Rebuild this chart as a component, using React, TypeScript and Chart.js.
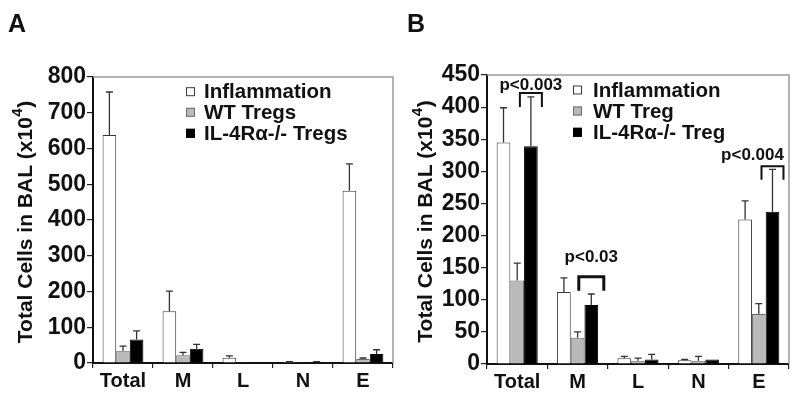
import React, { useEffect, useRef } from "react";
import { Chart, registerables } from "chart.js";

Chart.register(...registerables);

const FONT = '"Liberation Sans", Arial, Helvetica, sans-serif';

// ---------- DATA ----------
const categories = ["Total", "M", "L", "N", "E"];

const seriesNamesA = ["Inflammation", "WT Tregs", "IL-4R\u03b1-/- Tregs"];
const aInflammation = [638, 145, 15, 3, 482];
const aInflammationErr = [120, 56, 5, 1, 75];
const aWT = [34, 22, 1, 1, 11];
const aWTErr = [13, 8, 0, 0, 3];
const aIL4 = [66, 40, 1, 3, 25];
const aIL4Err = [24, 12, 0, 1, 12];
const aMax = 800;
const aStep = 100;

const seriesNamesB = ["Inflammation", "WT Treg", "IL-4R\u03b1-/- Treg"];
const bInflammation = [345, 112, 9, 6, 225];
const bInflammationErr = [54, 22, 3, 1, 29];
const bWT = [130, 41, 5, 5, 78];
const bWTErr = [27, 9, 4, 7, 16];
const bIL4 = [339, 92, 7, 7, 237];
const bIL4Err = [77, 17, 8, 0, 66];
const bMax = 450;
const bStep = 50;

// significance annotations (panel B), anchored to the IL-4Ra-/- bar of a category
const sigLabels = ["p<0.003", "p<0.03", "p<0.004"];
const sigCategories = [0, 1, 4];
const sigBracketTop = [422, 136, 308];
const sigBracketLeg = [400, 114, 287];
const sigTextValue = [434, 166, 325];

const yTitleMain = "Total Cells in BAL (x10";
const yTitleSup = "4";
const yTitleEnd = ")";

// ---------- STYLE ----------
const fills = ["#ffffff", "#b9b9b9", "#000000"];
const outlines = ["#3a3a3a", "#6a6a6a", "#000000"];

type Panel = {
  letter: string;
  names: string[];
  values: number[][];
  errors: number[][];
  max: number;
  step: number;
  pad: { left: number; right: number; top: number };
  yWidth: number;
  xHeight: number;
  titleX: number;
  legendDx: number;
  legendTextDx: number;
  legendDy: number[];
  sig: boolean;
};

const panels: Panel[] = [
  {
    letter: "A",
    names: seriesNamesA,
    values: [aInflammation, aWT, aIL4],
    errors: [aInflammationErr, aWTErr, aIL4Err],
    max: aMax,
    step: aStep,
    pad: { left: 8, right: 7, top: 77 },
    yWidth: 85,
    xHeight: 39,
    titleX: 26,
    legendDx: 93,
    legendTextDx: 111,
    legendDy: [14.7, 35.3, 56.3],
    sig: false,
  },
  {
    letter: "B",
    names: seriesNamesB,
    values: [bInflammation, bWT, bIL4],
    errors: [bInflammationErr, bWTErr, bIL4Err],
    max: bMax,
    step: bStep,
    pad: { left: 7, right: 11, top: 75 },
    yWidth: 80,
    xHeight: 38,
    titleX: 26,
    legendDx: 86,
    legendTextDx: 106,
    legendDy: [15, 36, 57.3],
    sig: true,
  },
];

function makePlugins(panel: Panel) {
  const errorBars = {
    id: "errorBars",
    afterDatasetsDraw(chart: any) {
      const ctx = chart.ctx;
      const y = chart.scales.y;
      ctx.save();
      ctx.strokeStyle = "#333";
      ctx.lineWidth = 1.3;
      panel.values.forEach((vals, i) => {
        const meta = chart.getDatasetMeta(i);
        vals.forEach((v, j) => {
          const e = panel.errors[i][j];
          if (!e) return;
          const bar = meta.data[j];
          const top = y.getPixelForValue(v + e);
          ctx.beginPath();
          ctx.moveTo(bar.x, bar.y);
          ctx.lineTo(bar.x, top);
          ctx.moveTo(bar.x - 3.5, top);
          ctx.lineTo(bar.x + 3.5, top);
          ctx.stroke();
        });
      });
      ctx.restore();
    },
  };

  const frame = {
    id: "frame",
    beforeDatasetsDraw(chart: any) {
      const { ctx, chartArea } = chart;
      ctx.save();
      ctx.strokeStyle = "#9a9a9a";
      ctx.lineWidth = 1.5;
      ctx.beginPath();
      ctx.moveTo(chartArea.left, chartArea.top);
      ctx.lineTo(chartArea.right, chartArea.top);
      ctx.lineTo(chartArea.right, chartArea.bottom);
      ctx.stroke();
      ctx.restore();
    },
  };

  const textLayer = {
    id: "textLayer",
    afterDraw(chart: any) {
      const { ctx, chartArea } = chart;
      ctx.save();
      ctx.fillStyle = "#111";
      ctx.font = `bold 25px ${FONT}`;
      ctx.textBaseline = "alphabetic";
      ctx.textAlign = "left";
      ctx.fillText(panel.letter, panel.pad.left, 32);

      // y-axis title with a real superscript
      const mainFont = `bold 21px ${FONT}`;
      const supFont = `bold 15px ${FONT}`;
      ctx.font = mainFont;
      const w1 = ctx.measureText(yTitleMain).width;
      const w3 = ctx.measureText(yTitleEnd).width;
      ctx.font = supFont;
      const w2 = ctx.measureText(yTitleSup).width;
      const total = w1 + w2 + w3 + 1;
      ctx.save();
      ctx.translate(panel.titleX, (chartArea.top + chartArea.bottom) / 2 + 2);
      ctx.rotate(-Math.PI / 2);
      ctx.textBaseline = "middle";
      ctx.textAlign = "left";
      let x0 = -total / 2;
      ctx.font = mainFont;
      ctx.fillText(yTitleMain, x0, 0);
      x0 += w1;
      ctx.font = supFont;
      ctx.fillText(yTitleSup, x0 + 0.5, -8);
      x0 += w2 + 1;
      ctx.font = mainFont;
      ctx.fillText(yTitleEnd, x0, 0);
      ctx.restore();

      ctx.font = `bold 20.5px ${FONT}`;
      ctx.textBaseline = "middle";
      ctx.textAlign = "left";
      panel.names.forEach((name, i) => {
        const cy = chartArea.top + panel.legendDy[i];
        const sx = chartArea.left + panel.legendDx;
        ctx.fillStyle = fills[i];
        ctx.fillRect(sx, cy - 4.5, 9, 9);
        ctx.strokeStyle = outlines[i];
        ctx.lineWidth = 1;
        ctx.strokeRect(sx + 0.5, cy - 4, 8, 8);
        ctx.fillStyle = "#111";
        ctx.fillText(name, chartArea.left + panel.legendTextDx, cy + 1);
      });
      ctx.restore();
    },
  };

  const significance = {
    id: "significance",
    afterDraw(chart: any) {
      if (!panel.sig) return;
      const { ctx } = chart;
      const y = chart.scales.y;
      const meta = chart.getDatasetMeta(2);
      ctx.save();
      ctx.strokeStyle = "#111";
      ctx.fillStyle = "#111";
      ctx.font = `bold 17px ${FONT}`;
      ctx.textAlign = "center";
      ctx.textBaseline = "middle";
      sigLabels.forEach((label, k) => {
        const bar = meta.data[sigCategories[k]];
        const half = k === 1 ? 12.5 : 11;
        const top = y.getPixelForValue(sigBracketTop[k]);
        const leg = y.getPixelForValue(sigBracketLeg[k]);
        ctx.lineWidth = k === 1 ? 3 : 2;
        ctx.beginPath();
        ctx.moveTo(bar.x - half, leg);
        ctx.lineTo(bar.x - half, top);
        ctx.lineTo(bar.x + half, top);
        ctx.lineTo(bar.x + half, leg);
        ctx.stroke();
        const tx = k === 2 ? bar.x - 20 : bar.x;
        ctx.fillText(label, tx, y.getPixelForValue(sigTextValue[k]));
      });
      ctx.restore();
    },
  };

  return [frame, errorBars, textLayer, significance];
}

function PanelChart({ panel }: { panel: Panel }) {
  const ref = useRef<HTMLCanvasElement | null>(null);
  useEffect(() => {
    if (!ref.current) return;
    const chart = new Chart(ref.current, {
      type: "bar",
      data: {
        labels: categories,
        datasets: panel.values.map((vals, i) => ({
          label: panel.names[i],
          data: vals,
          backgroundColor: fills[i],
          borderColor: outlines[i],
          borderWidth: 1,
          categoryPercentage: 0.68,
          barPercentage: 1,
        })),
      },
      options: {
        animation: false,
        responsive: false,
        devicePixelRatio: 1,
        layout: { padding: { left: panel.pad.left, right: panel.pad.right, top: panel.pad.top, bottom: 0 } },
        plugins: { legend: { display: false }, tooltip: { enabled: false } },
        scales: {
          x: {
            grid: { display: true, drawOnChartArea: false, offset: true, tickLength: 5, color: "#222", lineWidth: 1.2 },
            border: { color: "#111", width: 2 },
            ticks: { font: { family: FONT, size: 20, weight: "bold" }, color: "#111", padding: 1 },
            afterFit: (s: any) => {
              s.height = panel.xHeight;
            },
          },
          y: {
            min: 0,
            max: panel.max,
            ticks: { stepSize: panel.step, font: { family: FONT, size: 23, weight: "bold" }, color: "#111", padding: 1 },
            grid: { drawOnChartArea: false, tickLength: 6, color: "#222", lineWidth: 1.2 },
            border: { color: "#111", width: 2 },
            afterFit: (s: any) => {
              s.width = panel.yWidth;
            },
          },
        },
      } as any,
      plugins: makePlugins(panel) as any,
    });
    return () => chart.destroy();
  }, [panel]);
  return <canvas ref={ref} width={400} height={402} style={{ display: "block", width: 400, height: 402 }} />;
}

export default function App() {
  return (
    <div style={{ position: "absolute", left: 0, top: 0, width: 800, height: 402, display: "flex", background: "#fff" }}>
      {panels.map((p) => (
        <PanelChart key={p.letter} panel={p} />
      ))}
    </div>
  );
}
